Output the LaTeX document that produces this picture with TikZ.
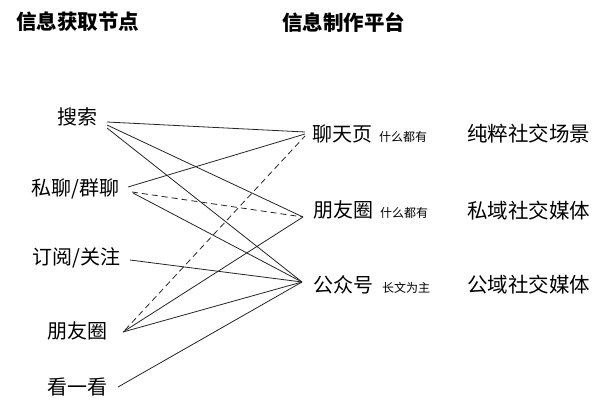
\documentclass[tikz,border=0pt]{standalone}
\usepackage{fontspec}
\setmainfont{Noto Sans CJK SC}
\begin{document}
\begin{tikzpicture}[x=1pt,y=-1pt,
  lbl/.style={anchor=west,inner sep=0pt,font=\fontsize{20}{20}\selectfont},
  head/.style={anchor=west,inner sep=0pt,font=\fontsize{20.5}{20}\selectfont\bfseries},
  rlbl/.style={anchor=west,inner sep=0pt,font=\fontsize{20.5}{20}\selectfont},
  link/.style={line width=0.8pt,black!85},
  dlink/.style={link,dash pattern=on 6pt off 4pt}]
\useasboundingbox[fill=white] (0,0) rectangle (601,406);
\newcommand\smalltxt[1]{{\fontsize{12}{12}\selectfont #1}}
% headings
\node[head] (h1) at (16,22) {信息获取节点};
\node[head] (h2) at (282,22) {信息制作平台};
% left column
\node[lbl] (ss) at (57,117) {搜索};
\node[lbl] (sl) at (31,189) {私聊/群聊};
\node[lbl] (dy) at (32,258) {订阅/关注};
\node[lbl] (pyq) at (47,331) {朋友圈};
\node[lbl] (kyk) at (47,387) {看一看};
% middle column
\node[lbl] (lt) at (312,134) {聊天页\hspace{7pt}\smalltxt{什么都有}};
\node[lbl] (pm) at (313,210) {朋友圈\hspace{7pt}\smalltxt{什么都有}};
\node[lbl] (gz) at (313,285) {公众号\hspace{9pt}\smalltxt{长文为主}};
% right column
\node[rlbl] (r1) at (467,134) {纯粹社交场景};
\node[rlbl] (r2) at (467,211) {私域社交媒体};
\node[rlbl] (r3) at (467,285) {公域社交媒体};
% connector ends
\coordinate (ss1) at (107,122);
\coordinate (ss2) at (107,125);
\coordinate (ss3) at (107,128);
\coordinate (sl1) at (128,187);
\coordinate (sl2) at (132,192);
\coordinate (sl3) at (133,193);
\coordinate (dy1) at (130,260);
\coordinate (pq1) at (125,330);
\coordinate (pq2) at (123,332);
\coordinate (ky1) at (118,387);
\coordinate (lt1) at (305,132);
\coordinate (lt2) at (305,134);
\coordinate (lt3) at (305,136);
\coordinate (pm1) at (303,217);
\coordinate (gz1) at (302,282);
% connectors
\draw[link] (ss1) -- (lt1);
\draw[link] (ss2) -- (pm1);
\draw[link] (ss3) -- (gz1);
\draw[link] (sl1) -- (lt2);
\draw[dlink] (sl2) -- (pm1);
\draw[link] (sl3) -- (gz1);
\draw[link] (dy1) -- (gz1);
\draw[dlink] (pq1) -- (lt3);
\draw[link] (pq2) -- (pm1);
\draw[link] (pq2) -- (gz1);
\draw[link] (ky1) -- (gz1);
\end{tikzpicture}
\end{document}
